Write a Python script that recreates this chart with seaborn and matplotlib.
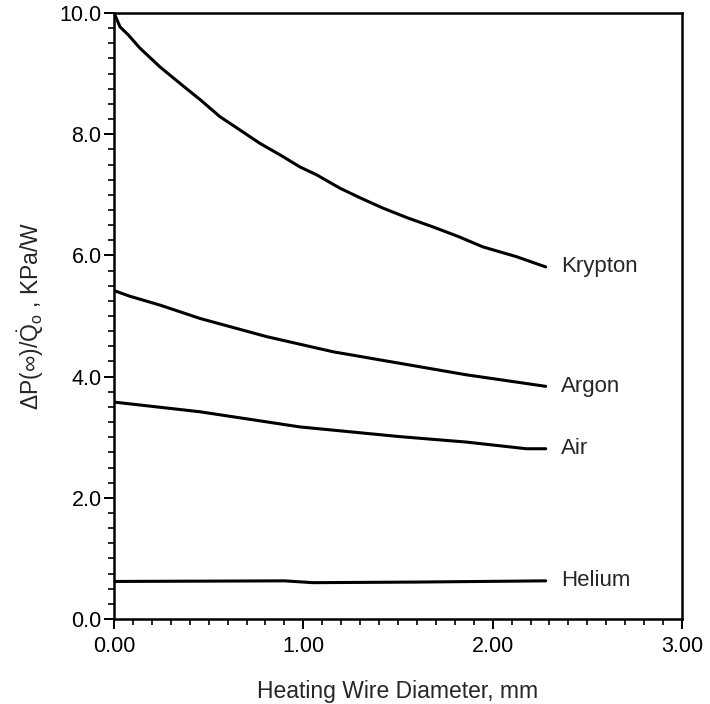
import matplotlib
matplotlib.use("Agg")
import matplotlib.pyplot as plt
from matplotlib.ticker import MultipleLocator, FormatStrFormatter
import pandas as pd
import seaborn as sns

# Pressure-rise coefficient vs heating wire diameter for four gases
krypton_x = [0.0, 0.032, 0.075, 0.137, 0.243, 0.348, 0.459, 0.559, 0.665, 0.770,
             0.882, 0.982, 1.07, 1.193, 1.30, 1.421, 1.55, 1.685, 1.82, 1.949,
             2.125, 2.28]
krypton_y = [10.0, 9.77, 9.64, 9.42, 9.11, 8.84, 8.56, 8.29, 8.07, 7.85,
             7.65, 7.46, 7.33, 7.11, 6.95, 6.78, 6.62, 6.47, 6.31, 6.14,
             5.98, 5.81]

argon_x = [0.0, 0.08, 0.243, 0.454, 0.806, 1.157, 1.509, 1.861, 2.28]
argon_y = [5.42, 5.33, 5.18, 4.96, 4.66, 4.41, 4.22, 4.03, 3.84]

air_x = [0.0, 0.454, 0.982, 1.509, 1.861, 2.178, 2.28]
air_y = [3.58, 3.42, 3.17, 3.01, 2.92, 2.81, 2.81]

helium_x = [0.0, 0.90, 1.05, 1.60, 2.28]
helium_y = [0.62, 0.63, 0.60, 0.61, 0.63]

gases = ["Krypton", "Argon", "Air", "Helium"]
series = [("Krypton", krypton_x, krypton_y),
          ("Argon", argon_x, argon_y),
          ("Air", air_x, air_y),
          ("Helium", helium_x, helium_y)]

df = pd.concat([pd.DataFrame({"d": xs, "p": ys, "gas": name})
                for name, xs, ys in series], ignore_index=True)

sns.set_theme(style="ticks")
plt.rcParams["font.family"] = ["Liberation Sans", "DejaVu Sans"]
plt.rcParams["mathtext.fontset"] = "custom"
plt.rcParams["mathtext.rm"] = "Liberation Sans"
plt.rcParams["mathtext.it"] = "Liberation Sans"

fig = plt.figure(figsize=(7.10, 7.04), dpi=100)
ax = fig.add_axes([0.1606, 0.1207, 0.80, 0.8608])

sns.lineplot(data=df, x="d", y="p", hue="gas", hue_order=gases,
             palette=["black"] * 4, linewidth=2.2, legend=False,
             sort=False, estimator=None, ax=ax)

for name, xs, ys in series:
    ax.text(2.36, ys[-1], name, fontsize=16, ha="left", va="center")

ax.set_xlim(0, 3.0)
ax.set_ylim(0, 10.0)
ax.xaxis.set_major_locator(MultipleLocator(1.0))
ax.xaxis.set_minor_locator(MultipleLocator(0.1))
ax.yaxis.set_major_locator(MultipleLocator(2.0))
ax.yaxis.set_minor_locator(MultipleLocator(0.25))
ax.xaxis.set_major_formatter(FormatStrFormatter("%.2f"))
ax.yaxis.set_major_formatter(FormatStrFormatter("%.1f"))

ax.tick_params(which="major", direction="out", length=7.5, width=1.4,
               labelsize=15.5, colors="black")
ax.tick_params(axis="y", which="major", pad=1.5)
ax.tick_params(axis="x", which="major", pad=4.5)
ax.tick_params(which="minor", direction="out", length=4, width=1.2,
               colors="black")
ax.tick_params(top=False, right=False, which="both")

for s in ax.spines.values():
    s.set_color("black")
    s.set_linewidth(1.8)

ax.set_xlabel("Heating Wire Diameter, mm", fontsize=16.5, labelpad=17)
ax.set_ylabel(r"$\Delta$P($\infty$)/$\dot{\mathrm{Q}}_\mathrm{o}$ , KPa/W",
              fontsize=16.5, labelpad=10)

fig.savefig("out.png", dpi=100, facecolor="white")
